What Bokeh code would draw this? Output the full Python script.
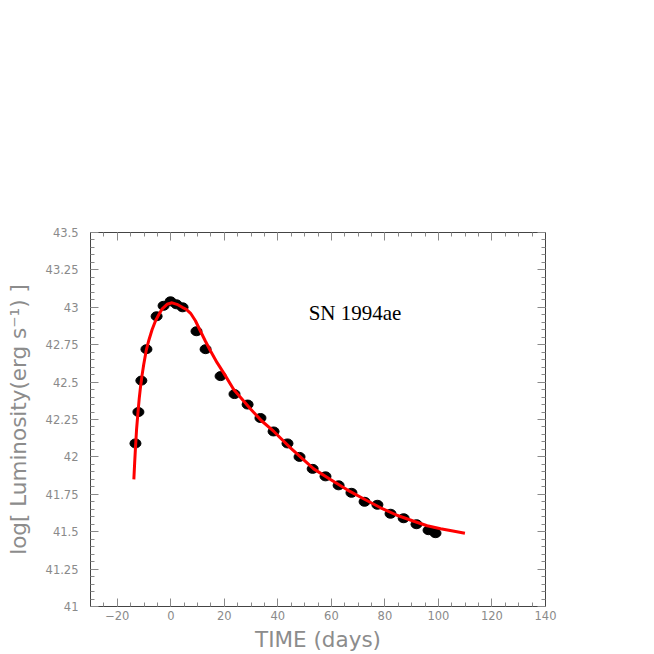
from bokeh.plotting import figure
from bokeh.models import Range1d, LinearAxis, Label, FixedTicker, CustomJSTickFormatter, ColumnDataSource
from bokeh.embed import file_html
from bokeh.resources import INLINE

# ---- data ----
obs_days = [-13.2, -12.1, -11.0, -9.1, -5.3, -2.7, -0.1, 2.1, 4.4, 9.6, 13.0, 18.6, 23.8,
            28.7, 33.5, 38.4, 43.6, 48.1, 53.0, 57.8, 62.7, 67.5, 72.4, 77.2, 82.1, 87.0,
            91.8, 96.3, 98.9]
obs_lum = [42.09, 42.30, 42.51, 42.72, 42.94, 43.01, 43.04, 43.02, 43.00, 42.84, 42.72,
           42.54, 42.42, 42.35, 42.26, 42.17, 42.09, 42.00, 41.92, 41.87, 41.81, 41.76,
           41.70, 41.68, 41.62, 41.59, 41.55, 41.51, 41.49]

fit_days = [-13.8, -13.5, -13.2, -12.8, -12.3, -11.8, -11.3, -10.7, -10.1, -9.2, -8.2,
            -7.0, -5.7, -4.5, -3.2, -1.4, 0.5, 2.3, 4.3, 5.9, 7.4, 9.2, 11.1, 12.9, 14.8,
            17.3, 19.8, 23.5, 29.8, 34.0, 38.5, 44.7, 53.4, 59.5, 65.9, 72.0, 78.4, 84.5,
            90.8, 95.8, 100.8, 105.4, 109.9]
fit_lum = [41.85, 41.96, 42.06, 42.18, 42.29, 42.39, 42.47, 42.55, 42.62, 42.71, 42.78,
           42.85, 42.91, 42.95, 42.99, 43.02, 43.03, 43.02, 43.00, 42.985, 42.96, 42.91,
           42.84, 42.775, 42.71, 42.63, 42.56, 42.45, 42.32, 42.24, 42.17, 42.06, 41.92,
           41.85, 41.78, 41.72, 41.66, 41.61, 41.57, 41.54, 41.52, 41.505, 41.49]

x_ticks = [-20, 0, 20, 40, 60, 80, 100, 120, 140]
x_tick_labels = ["\u221220", "0", "20", "40", "60", "80", "100", "120", "140"]
y_ticks = [41, 41.25, 41.5, 41.75, 42, 42.25, 42.5, 42.75, 43, 43.25, 43.5]
y_tick_labels = ["41", "41.25", "41.5", "41.75", "42", "42.25", "42.5", "42.75", "43",
                 "43.25", "43.5"]
title_text = "SN 1994ae"
x_title = "TIME (days)"
y_title = "log[ Luminosity(erg s\u207b\u00b9) ]"

x_minor = [-30 + 5 * i for i in range(35)]
y_minor = [41 + 0.05 * i for i in range(51)]

p = figure(width=654, height=654, output_backend="svg", toolbar_location=None,
           x_range=Range1d(-30, 140), y_range=Range1d(41, 43.5),
           x_axis_type=None, y_axis_type=None,
           min_border_left=90, min_border_right=109, min_border_top=232,
           min_border_bottom=48, background_fill_color="white", border_fill_color="white")
p.outline_line_color = "#444444"

xb = LinearAxis()
yl = LinearAxis()
xt = LinearAxis()
yr = LinearAxis()
p.add_layout(xb, "below")
p.add_layout(yl, "left")
p.add_layout(xt, "above")
p.add_layout(yr, "right")

tick_grey = "#8a8a8a"
for ax in [xb, yl, xt, yr]:
    ax.axis_line_color = "#444444"
    ax.major_tick_in = 8
    ax.major_tick_out = 0
    ax.minor_tick_in = 4
    ax.minor_tick_out = 0
    ax.major_tick_line_color = tick_grey
    ax.minor_tick_line_color = tick_grey
    ax.major_label_text_color = tick_grey
    ax.major_label_text_font = "DejaVu Sans"
    ax.major_label_text_font_size = "11.5px"

for ax in [xb, xt]:
    ax.ticker = FixedTicker(ticks=x_ticks, minor_ticks=x_minor)
for ax in [yl, yr]:
    ax.ticker = FixedTicker(ticks=y_ticks, minor_ticks=y_minor)

xb.major_label_overrides = dict(zip(x_ticks, x_tick_labels))
yl.major_label_overrides = dict(zip(y_ticks, y_tick_labels))
xb.major_label_standoff = 4
yl.major_label_standoff = 12
xt.formatter = CustomJSTickFormatter(code="return ''")
yr.formatter = CustomJSTickFormatter(code="return ''")
xt.major_label_standoff = 0
yr.major_label_standoff = 0

for ax, txt, st in [(xb, x_title, 4), (yl, y_title, 12)]:
    ax.axis_label = txt
    ax.axis_label_standoff = st
    ax.axis_label_text_font = "DejaVu Sans"
    ax.axis_label_text_font_size = "21.5px"
    ax.axis_label_text_font_style = "normal"
    ax.axis_label_text_color = "#8c8c8c"

src = ColumnDataSource(dict(d=obs_days, l=obs_lum))
p.ellipse(x="d", y="l", width=11, height=9, width_units="screen", height_units="screen",
          fill_color="black", line_color="black", source=src)
p.line(fit_days, fit_lum, line_color="#ff0000", line_width=3)

p.add_layout(Label(x=51.5, y=42.96, text=title_text, text_font="Liberation Serif",
                   text_font_size="21px", text_color="black", text_baseline="alphabetic"))

open("out.html", "w").write(file_html(p, INLINE))
